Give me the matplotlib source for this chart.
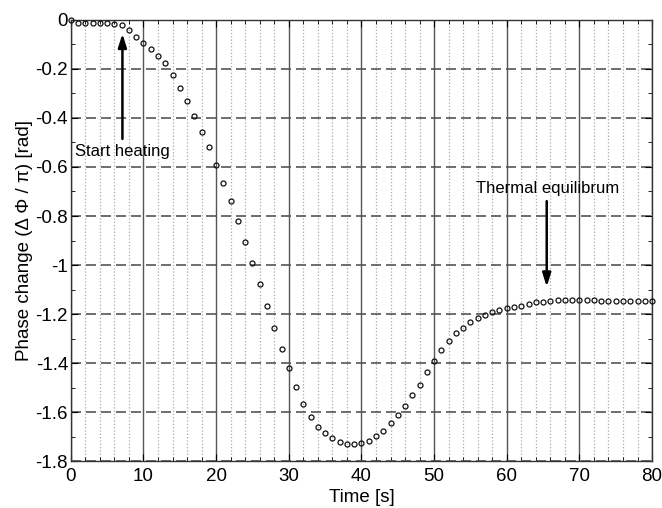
import numpy as np
import matplotlib
matplotlib.use("Agg")
import matplotlib.pyplot as plt
from matplotlib.ticker import MultipleLocator

plt.rcParams['font.family'] = ['Liberation Sans', 'DejaVu Sans']

# time [s], one sample per second
time_s = list(range(0, 81))
# phase change (delta phi / pi)
phase = [
    0.000, -0.013, -0.011, -0.013, -0.013, -0.011, -0.016, -0.022, -0.041, -0.072,
    -0.093, -0.117, -0.146, -0.177, -0.226, -0.276, -0.333, -0.392, -0.456, -0.520,
    -0.590, -0.665, -0.740, -0.822, -0.907, -0.993, -1.079, -1.167, -1.256, -1.341,
    -1.420, -1.497, -1.567, -1.619, -1.660, -1.686, -1.707, -1.722, -1.729, -1.729,
    -1.724, -1.717, -1.699, -1.676, -1.646, -1.612, -1.573, -1.529, -1.487, -1.437,
    -1.393, -1.348, -1.310, -1.279, -1.256, -1.234, -1.215, -1.204, -1.193, -1.184,
    -1.176, -1.170, -1.165, -1.159, -1.152, -1.150, -1.147, -1.142, -1.142, -1.142,
    -1.142, -1.144, -1.144, -1.146, -1.146, -1.146, -1.146, -1.146, -1.146, -1.146,
    -1.146,
]

xticks = [0, 10, 20, 30, 40, 50, 60, 70, 80]
yticks = [0, -0.2, -0.4, -0.6, -0.8, -1, -1.2, -1.4, -1.6, -1.8]
ytick_labels = ['0', '-0.2', '-0.4', '-0.6', '-0.8', '-1', '-1.2', '-1.4', '-1.6', '-1.8']

fig = plt.figure(figsize=(6.62, 5.08), dpi=100)
ax = fig.add_axes([0.107, 0.092, 0.878, 0.869])

ax.plot(time_s, phase, linestyle='none', marker='o', markersize=3.6,
        markerfacecolor='none', markeredgecolor='#111111', markeredgewidth=0.9,
        zorder=3, clip_on=False)

ax.set_xlim(0, 80)
ax.set_ylim(-1.8, 0)
ax.set_xticks(xticks)
ax.set_yticks(yticks)
ax.set_yticklabels(ytick_labels)
ax.xaxis.set_minor_locator(MultipleLocator(2))
ax.yaxis.set_minor_locator(MultipleLocator(0.1))

# grid: solid major x, dotted minor x, dashed major y
ax.grid(which='major', axis='x', color='#555555', linestyle='-', linewidth=1.0)
ax.grid(which='minor', axis='x', color='#aaaaaa', linestyle=':', linewidth=0.9)
ax.grid(which='major', axis='y', color='#555555', linestyle=(0, (6, 3)), linewidth=1.2)
ax.set_axisbelow(True)

ax.tick_params(which='both', direction='in', top=True, right=True, labelsize=13.5, pad=2)
ax.tick_params(axis='x', which='major', pad=5)
ax.tick_params(which='major', length=5)
ax.tick_params(which='minor', length=3)
for s in ax.spines.values():
    s.set_color('#333333')
    s.set_linewidth(1.0)

ax.set_xlabel('Time [s]', fontsize=13.5, labelpad=3)
ax.set_ylabel('Phase change (Δ Φ / π) [rad]', fontsize=13.5, labelpad=2)

ax.annotate('', xy=(7.1, -0.045), xytext=(7.1, -0.497),
            arrowprops=dict(arrowstyle='-|>,head_width=0.25,head_length=0.8',
                            color='black', lw=1.8))
ax.text(0.6, -0.537, 'Start heating', fontsize=12, ha='left', va='center')

ax.annotate('', xy=(65.5, -1.1), xytext=(65.5, -0.728),
            arrowprops=dict(arrowstyle='-|>,head_width=0.25,head_length=0.8',
                            color='black', lw=1.8))
ax.text(65.6, -0.687, 'Thermal equilibrum', fontsize=12, ha='center', va='center')

fig.savefig('out.png', dpi=100)
